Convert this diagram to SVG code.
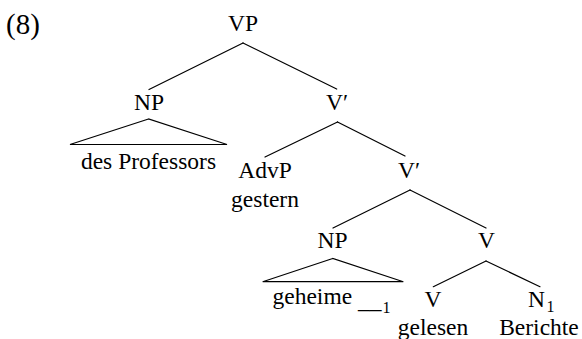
<svg xmlns="http://www.w3.org/2000/svg" width="582" height="339" viewBox="0 0 582 339">
<style>
text{font-family:'Liberation Serif','DejaVu Serif',serif;font-size:23.5px;fill:#000;text-anchor:middle}
.st{text-anchor:start}
.sub{font-size:16px;text-anchor:start}
.ln{stroke:#000;stroke-width:1.2;fill:none;stroke-linecap:round;stroke-linejoin:miter}
</style>
<rect width="582" height="339" fill="#fff"/>
<g font-family="Liberation Serif, DejaVu Serif, serif">
<text class="st" x="6" y="34" style="font-size:29px">(8)</text>
<g id="connectors" class="ln">
<line x1="243" y1="43" x2="149" y2="89.5"/>
<line x1="243" y1="43" x2="336.7" y2="89"/>
<line x1="337.5" y1="122" x2="265" y2="157"/>
<line x1="337.5" y1="122" x2="405" y2="156"/>
<line x1="410" y1="190" x2="333" y2="228"/>
<line x1="410" y1="190" x2="486" y2="228"/>
<line x1="486" y1="261" x2="433.3" y2="286.7"/>
<line x1="486" y1="261" x2="540" y2="286.7"/>
</g>
<g id="VP"><text x="243" y="31">VP</text></g>
<g id="NP1"><text x="149" y="110">NP</text>
<polygon class="ln" points="148.5,119 70,144.5 227,144.5"/>
<text x="148.5" y="169">des Professors</text></g>
<g id="Vbar1"><text x="337" y="110">V′</text></g>
<g id="AdvP"><text x="265" y="178">AdvP</text><text x="265" y="206.5">gestern</text></g>
<g id="Vbar2"><text x="409" y="178">V′</text></g>
<g id="NP2"><text x="332.5" y="248">NP</text>
<polygon class="ln" points="332.7,258.5 262.7,281.7 403.3,281.7"/>
<text class="st" x="272.5" y="304">geheime</text>
<text class="st" x="358" y="307.5">__</text>
<text class="sub" x="382.5" y="312.5">1</text></g>
<g id="V1"><text x="486.5" y="248">V</text></g>
<g id="V2"><text x="433" y="306.7">V</text><text x="433" y="335">gelesen</text></g>
<g id="N1"><text class="st" x="528" y="306.7">N</text><text class="sub" x="546.5" y="312">1</text>
<text x="539" y="335">Berichte</text></g>
</g>
</svg>
